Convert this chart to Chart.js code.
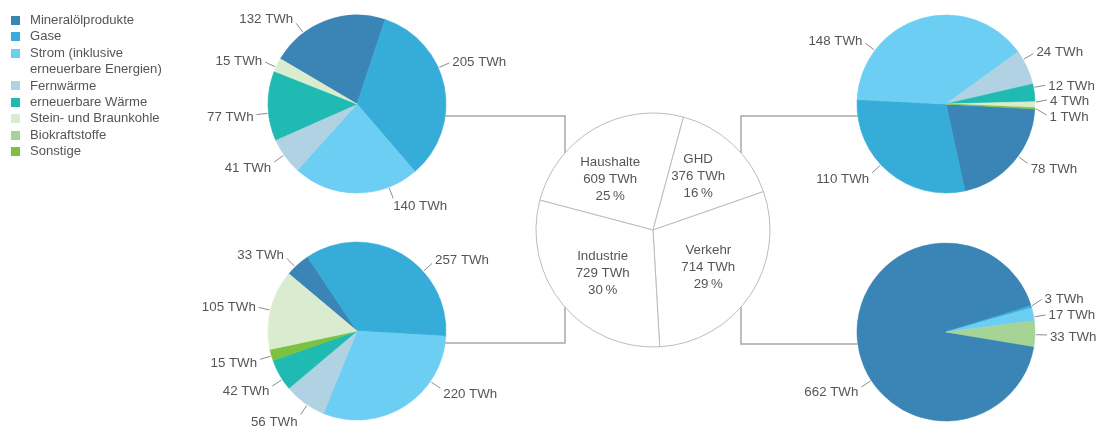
<!DOCTYPE html>
<html lang="de">
<head>
<meta charset="utf-8">
<title>Endenergieverbrauch nach Sektoren und Energieträgern</title>
<script src="https://cdn.jsdelivr.net/npm/chart.js@4.4.1/dist/chart.umd.min.js"></script>
<style>
  html, body { margin: 0; padding: 0; background: #fff; }
  #stage { position: relative; width: 1099px; height: 428px; overflow: hidden;
           font-family: 'Liberation Sans', Arial, sans-serif; }
  #stage canvas { position: absolute; left: 0; top: 0; }
  #legend { position: absolute; left: 11px; top: 12px; margin: 0; padding: 0; list-style: none;
            font-size: 13.1px; line-height: 16.4px; color: #555; z-index: 5; }
  #legend li { position: relative; padding-left: 19px; width: 150px; }
  #legend .sw { position: absolute; left: 0; top: 3.7px; width: 9px; height: 9px; }
</style>
</head>
<body>
<div id="stage">
  <ul id="legend"></ul>
  <canvas id="pieHaushalte" width="1099" height="428"></canvas>
  <canvas id="pieIndustrie" width="1099" height="428"></canvas>
  <canvas id="pieGHD" width="1099" height="428"></canvas>
  <canvas id="pieVerkehr" width="1099" height="428"></canvas>
  <canvas id="pieSektoren" width="1099" height="428"></canvas>
</div>
<script>
// ---- Energieträger (legend order) ----
const carriers = ['Mineralölprodukte', 'Gase', 'Strom (inklusive erneuerbare Energien)', 'Fernwärme',
                  'erneuerbare Wärme', 'Stein- und Braunkohle', 'Biokraftstoffe', 'Sonstige'];
const carrierColors = ['#3b84b6', '#36acd9', '#6ccef3', '#b0d2e2', '#1fbab2', '#daeccf', '#a6d496', '#7cc242'];

// ---- Sektoren (centre pie) ----
const sectors = ['Haushalte', 'GHD', 'Verkehr', 'Industrie'];
const sectorTWh = [609, 376, 714, 729];
const sectorShare = [25, 16, 29, 30];

// ---- Energieträger je Sektor (indices into carriers, in drawing order) ----
const haushalteCarriers = [0, 1, 2, 3, 4, 5];
const haushalteTWh = [132, 205, 140, 41, 77, 15];

const industrieCarriers = [0, 1, 2, 3, 4, 7, 5];
const industrieTWh = [33, 257, 220, 56, 42, 15, 105];

const ghdCarriers = [0, 1, 2, 3, 4, 5, 7];
const ghdTWh = [78, 110, 148, 24, 12, 4, 1];

const verkehrCarriers = [0, 1, 2, 6];
const verkehrTWh = [662, 3, 17, 33];

const unit = 'TWh';

// ---- layout: pie centres, radii, start rotation, label directions (deg, clockwise from 12 o'clock) ----
const W = 1099, H = 428;
const layout = {
  haushalte: { cx: 357, cy: 104, r: 89, rotation: -59.5, calloutAngles: [323, 66, 159, 235, 264, 294.5] },
  industrie: { cx: 357, cy: 331, r: 89, rotation: -50,   calloutAngles: [316, 48, 124.5, 214, 237, 253.7, 283.5] },
  ghd:       { cx: 946, cy: 104, r: 89, rotation: 93.3,  calloutAngles: [126, 227, 307, 60, 79.3, 87.7, 96.2] },
  verkehr:   { cx: 946, cy: 332, r: 89, rotation: 99.4,  calloutAngles: [237, 71.2, 80.3, 91.7] },
  sektoren:  { cx: 653, cy: 230, r: 117, rotation: -75.2, labelAngles: [320, 40, 124, 229], labelDist: [0.57, 0.6, 0.57, 0.57] }
};
const textColor = '#555';
const labelFont = "13.3px 'Liberation Sans', Arial, sans-serif";
const connectorDrop = 12;       // connectors leave each outer pie slightly below its centre
const connectorReach = 0.752;   // where connectors meet the centre pie, as share of its radius

// ---- HTML legend ----
const legendEl = document.getElementById('legend');
carriers.forEach((name, i) => {
  const li = document.createElement('li');
  const sw = document.createElement('span');
  sw.className = 'sw';
  sw.style.background = carrierColors[i];
  li.appendChild(sw);
  const label = name.replace('(inklusive ', '(inklusive\n');
  label.split('\n').forEach((part, j) => {
    if (j) li.appendChild(document.createElement('br'));
    li.appendChild(document.createTextNode(part));
  });
  legendEl.appendChild(li);
});

const deg = Math.PI / 180;

// keep an angle (radians) inside an arc so the leader touches its own slice
function clampToArc(phi, start, end) {
  const span = end - start;
  const margin = Math.min(0.3 * deg, span / 2);
  const TAU = Math.PI * 2;
  const rel = ((phi - start) % TAU + TAU) % TAU;
  if (rel >= margin && rel <= span - margin) return start + rel;
  if (rel < margin) return start + margin;
  const dEnd = Math.abs(rel - span);
  const dStart = TAU - rel;
  return dEnd < dStart ? end - margin : start + margin;
}

// callout labels with short leader lines for the outer pies
const callouts = {
  id: 'callouts',
  afterDatasetsDraw(chart, args, opts) {
    if (!opts.angles) return;
    const meta = chart.getDatasetMeta(0);
    const values = chart.data.datasets[0].data;
    const ctx = chart.ctx;
    ctx.save();
    ctx.font = labelFont;
    ctx.fillStyle = textColor;
    ctx.strokeStyle = '#8c8c8c';
    ctx.lineWidth = 1;
    ctx.textBaseline = 'middle';
    meta.data.forEach((arc, i) => {
      const p = arc.getProps(['x', 'y', 'startAngle', 'endAngle', 'outerRadius'], true);
      const theta = opts.angles[i];
      const t = (theta - 90) * deg;
      const phi = clampToArc(t, p.startAngle, p.endAngle);
      const ix = p.x + Math.cos(phi) * (p.outerRadius + 1);
      const iy = p.y + Math.sin(phi) * (p.outerRadius + 1);
      const ox = p.x + Math.cos(t) * (p.outerRadius + 12);
      const oy = p.y + Math.sin(t) * (p.outerRadius + 12);
      ctx.beginPath();
      ctx.moveTo(ix, iy);
      ctx.lineTo(ox, oy);
      ctx.stroke();
      const s = Math.sin(theta * deg), c = Math.cos(theta * deg);
      const tx = ox + (Math.abs(s) < 0.5 ? 0 : 3 * Math.sign(s));
      const ty = oy - 7 * c + 2;
      ctx.textAlign = s >= 0 ? 'left' : 'right';
      ctx.fillText(values[i] + ' ' + unit, tx, ty);
    });
    ctx.restore();
  }
};

function padFor(l) {
  return { left: l.cx - l.r - 1, top: l.cy - l.r - 1, right: W - l.cx - l.r - 1, bottom: H - l.cy - l.r - 1 };
}

function outerPie(canvasId, carrierIdx, values, l) {
  const colors = carrierIdx.map(k => carrierColors[k]);
  return new Chart(document.getElementById(canvasId), {
    type: 'pie',
    data: {
      labels: carrierIdx.map(k => carriers[k]),
      datasets: [{ data: values, backgroundColor: colors, borderColor: colors, borderWidth: 0.6 }]
    },
    options: {
      responsive: false,
      animation: false,
      events: [],
      radius: l.r,
      rotation: l.rotation,
      layout: { padding: padFor(l) },
      plugins: {
        legend: { display: false },
        tooltip: { enabled: false },
        callouts: { angles: l.calloutAngles }
      }
    },
    plugins: [callouts]
  });
}

const outerCharts = [
  outerPie('pieHaushalte', haushalteCarriers, haushalteTWh, layout.haushalte),
  outerPie('pieIndustrie', industrieCarriers, industrieTWh, layout.industrie),
  outerPie('pieGHD', ghdCarriers, ghdTWh, layout.ghd),
  outerPie('pieVerkehr', verkehrCarriers, verkehrTWh, layout.verkehr)
];

// connector lines from each outer pie to the centre pie (drawn underneath the white centre pie)
const connectors = {
  id: 'connectors',
  beforeDatasetsDraw(chart) {
    const centre = chart.getDatasetMeta(0).data[0].getProps(['x', 'y', 'outerRadius'], true);
    const ctx = chart.ctx;
    ctx.save();
    ctx.strokeStyle = '#a8a8a8';
    ctx.lineWidth = 1.5;
    outerCharts.forEach(oc => {
      const p = oc.getDatasetMeta(0).data[0].getProps(['x', 'y', 'outerRadius'], true);
      const side = p.x < centre.x ? -1 : 1;
      const ay = p.y + connectorDrop;
      const ax = p.x - side * Math.sqrt(p.outerRadius * p.outerRadius - connectorDrop * connectorDrop);
      const tx = centre.x + side * connectorReach * centre.outerRadius;
      ctx.beginPath();
      ctx.moveTo(ax, ay);
      ctx.lineTo(tx, ay);
      ctx.lineTo(tx, centre.y);
      ctx.stroke();
    });
    ctx.restore();
  },
  afterDatasetsDraw(chart) {
    // sector names, totals and shares inside the centre pie
    const meta = chart.getDatasetMeta(0);
    const l = layout.sektoren;
    const ctx = chart.ctx;
    ctx.save();
    ctx.font = labelFont;
    ctx.fillStyle = textColor;
    ctx.textAlign = 'center';
    ctx.textBaseline = 'middle';
    meta.data.forEach((arc, i) => {
      const p = arc.getProps(['x', 'y', 'outerRadius'], true);
      const a = l.labelAngles[i] * deg;
      const d = l.labelDist[i] * p.outerRadius;
      const x = p.x + Math.sin(a) * d;
      const y = p.y - Math.cos(a) * d;
      const lines = [sectors[i], sectorTWh[i] + ' ' + unit, sectorShare[i] + '\u2009%'];
      lines.forEach((txt, j) => ctx.fillText(txt, x, y + (j - 1) * 17));
    });
    ctx.restore();
  }
};

new Chart(document.getElementById('pieSektoren'), {
  type: 'pie',
  data: {
    labels: sectors,
    datasets: [{ data: sectorTWh, backgroundColor: '#ffffff', borderColor: '#bcbcbc', borderWidth: 1 }]
  },
  options: {
    responsive: false,
    animation: false,
    events: [],
    radius: layout.sektoren.r,
    rotation: layout.sektoren.rotation,
    layout: { padding: padFor(layout.sektoren) },
    plugins: { legend: { display: false }, tooltip: { enabled: false } }
  },
  plugins: [connectors]
});
</script>
</body>
</html>
